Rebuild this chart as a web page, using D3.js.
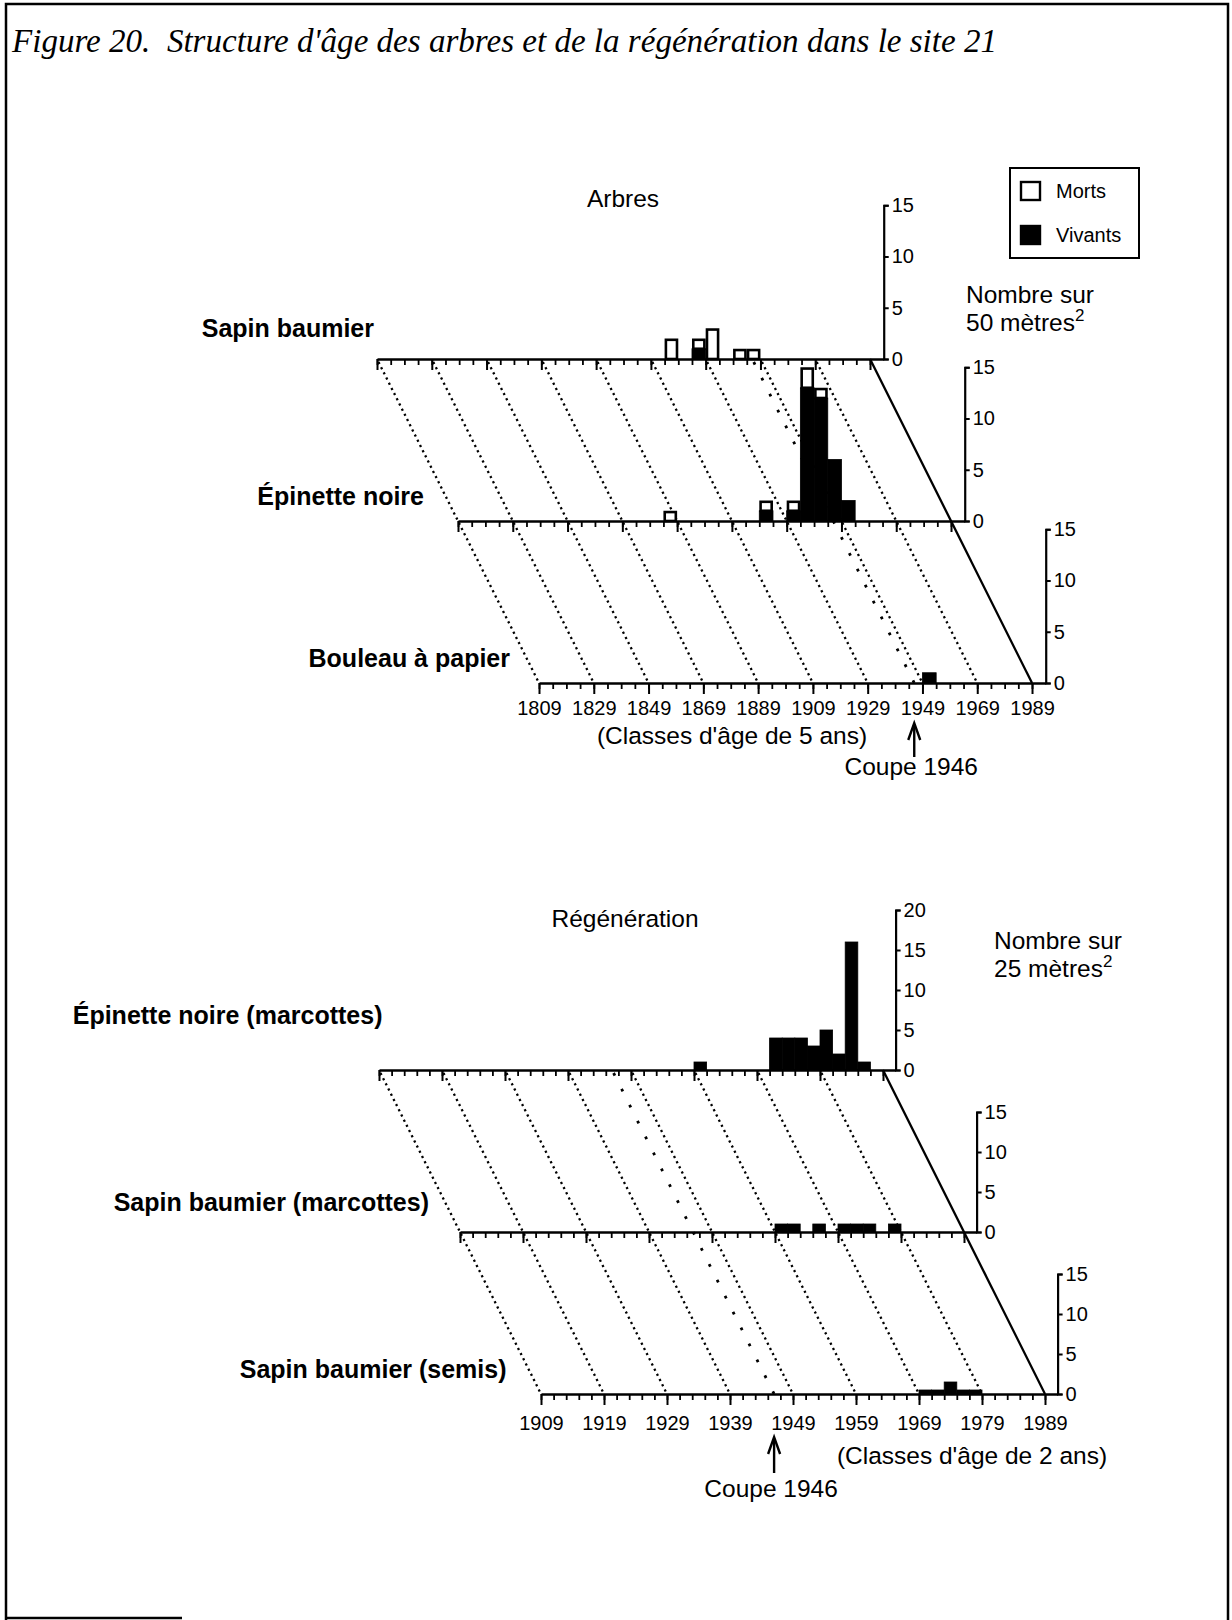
<!DOCTYPE html>
<html>
<head>
<meta charset="utf-8">
<script src="https://cdn.jsdelivr.net/npm/d3@7"></script>
<style>
  body { margin: 0; background: #fff; }
  svg { display: block; }
</style>
</head>
<body>
<svg id="chart" width="1232" height="1620"></svg>
<script>
// ---- Arbres : classes d'âge de 5 ans (année de début de classe)
const treeNames = ["Sapin baumier", "Épinette noire", "Bouleau à papier"];
const treeAxisMax = [15, 15, 15];

const sapinYears    = [1914, 1924, 1929, 1939, 1944];
const sapinMorts    = [2, 1, 3, 1, 1];
const sapinVivants  = [0, 1, 0, 0, 0];

const epinetteYears   = [1884, 1919, 1929, 1934, 1939, 1944, 1949];
const epinetteMorts   = [1, 1, 1, 2, 1, 0, 0];
const epinetteVivants = [0, 1, 1, 13, 12, 6, 2];

const bouleauYears   = [1949];
const bouleauMorts   = [0];
const bouleauVivants = [1];

const treeTickLabels = [1809, 1829, 1849, 1869, 1889, 1909, 1929, 1949, 1969, 1989];

// ---- Régénération : classes d'âge de 2 ans
const regenNames = ["Épinette noire (marcottes)", "Sapin baumier (marcottes)", "Sapin baumier (semis)"];
const regenAxisMax = [20, 15, 15];

const epMarcYears   = [1959, 1971, 1973, 1975, 1977, 1979, 1981, 1983, 1985];
const epMarcValues  = [1, 4, 4, 4, 3, 5, 2, 16, 1];

const sbMarcYears   = [1959, 1961, 1965, 1969, 1971, 1973, 1977];
const sbMarcValues  = [1, 1, 1, 1, 1, 1, 1];

const sbSemisYears  = [1969, 1971, 1973, 1975, 1977];
const sbSemisValues = [0.5, 0.5, 1.5, 0.5, 0.5];

const regenTickLabels = [1909, 1919, 1929, 1939, 1949, 1959, 1969, 1979, 1989];

const cutYear = 1946;

const SANS = '"Liberation Sans", Arial, Helvetica, sans-serif';
const svg = d3.select("#chart");

// ---- Cadre et titre
svg.append("path")
    .attr("d", "M6,1620 V4 H1228 V1620")
    .attr("fill", "none").attr("stroke", "#000").attr("stroke-width", 2.5);
svg.append("line")
    .attr("x1", 6).attr("y1", 1618).attr("x2", 182).attr("y2", 1618)
    .attr("stroke", "#000").attr("stroke-width", 2.5);

svg.append("text")
    .attr("x", 12).attr("y", 52)
    .attr("font-family", '"Liberation Serif", "Times New Roman", serif')
    .attr("font-style", "italic")
    .attr("font-size", 34)
    .attr("textLength", 985)
    .attr("lengthAdjust", "spacingAndGlyphs")
    .style("white-space", "pre")
    .text("Figure 20.  Structure d'âge des arbres et de la régénération dans le site 21");

// ---- Panneaux
const panels = [
  {
    title: "Arbres", titleX: 623, titleY: 207,
    x0: 377, y0: 359, dx: 81, dy: 162,
    start: 1809, end: 1994, pxYear: 2.739, classW: 5, unit: 10.25,
    tickLabels: treeTickLabels, labelPad: 6.8,
    series: [
      { name: treeNames[0], max: treeAxisMax[0], years: sapinYears, morts: sapinMorts, vivants: sapinVivants },
      { name: treeNames[1], max: treeAxisMax[1], years: epinetteYears, morts: epinetteMorts, vivants: epinetteVivants },
      { name: treeNames[2], max: treeAxisMax[2], years: bouleauYears, morts: bouleauMorts, vivants: bouleauVivants }
    ],
    nameShift: [[-3, -22], [-34, -16], [-29, -16]],
    unitText: ["Nombre sur", "50 mètres"], unitX: 966, unitY: 303,
    classText: "(Classes d'âge de 5 ans)", classX: 732, classY: 744, classAnchor: "middle",
    arrowTop: 723, arrowBottom: 757, coupeY: 775
  },
  {
    title: "Régénération", titleX: 625, titleY: 927,
    x0: 379, y0: 1070, dx: 81, dy: 162,
    start: 1909, end: 1991, pxYear: 6.3, classW: 2, unit: 8.0,
    tickLabels: regenTickLabels, labelPad: 10.8,
    series: [
      { name: regenNames[0], max: regenAxisMax[0], years: epMarcYears, vivants: epMarcValues },
      { name: regenNames[1], max: regenAxisMax[1], years: sbMarcYears, vivants: sbMarcValues },
      { name: regenNames[2], max: regenAxisMax[2], years: sbSemisYears, vivants: sbSemisValues }
    ],
    nameShift: [[3.5, -46], [-31, -21], [-34.5, -16]],
    unitText: ["Nombre sur", "25 mètres"], unitX: 994, unitY: 949,
    classText: "(Classes d'âge de 2 ans)", classX: 972, classY: 1464, classAnchor: "middle",
    arrowTop: 1437, arrowBottom: 1473, coupeY: 1497
  }
];

panels.forEach(drawPanel);

function drawPanel(p) {
  const width = (p.end - p.start) * p.pxYear;
  const xs = d3.scaleLinear().domain([p.start, p.end]).range([0, width]);
  const n = p.series.length - 1;
  const slope = p.dx / p.dy;
  const lastYear = p.tickLabels[p.tickLabels.length - 1];
  const g = svg.append("g");

  // ---- Lignes obliques (pointillés, coupe, limite)
  const guideLine = (yr) => {
    const x = p.x0 + xs(yr);
    return g.append("line")
      .attr("x1", x + 3 * slope).attr("y1", p.y0 + 3)
      .attr("x2", x + n * p.dx).attr("y2", p.y0 + n * p.dy)
      .attr("stroke", "#000").attr("fill", "none");
  };
  p.tickLabels.slice(0, -1).forEach(yr => {
    guideLine(yr).attr("stroke-width", 2.3).attr("stroke-dasharray", "2.2,3.6");
  });
  guideLine(cutYear).attr("stroke-width", 2.8).attr("stroke-dasharray", "2.8,15");
  g.append("line")
    .attr("x1", p.x0 + xs(lastYear)).attr("y1", p.y0)
    .attr("x2", p.x0 + xs(lastYear) + n * p.dx).attr("y2", p.y0 + n * p.dy)
    .attr("stroke", "#000").attr("stroke-width", 2.3);

  // ---- Séries
  p.series.forEach((s, i) => {
    const ox = p.x0 + i * p.dx, oy = p.y0 + i * p.dy;
    const ys = d3.scaleLinear().domain([0, s.max]).range([0, -s.max * p.unit]);
    const sg = g.append("g").attr("transform", `translate(${ox},${oy})`);

    const rows = s.years.map((yr, j) => ({
      year: yr,
      v: s.vivants ? s.vivants[j] : 0,
      m: s.morts ? s.morts[j] : 0
    }));
    const bw = xs(p.start + p.classW) - xs(p.start);

    sg.selectAll("rect.viv")
      .data(rows.filter(d => d.v > 0))
      .join("rect")
      .attr("class", "viv")
      .attr("x", d => xs(d.year))
      .attr("y", d => ys(d.v))
      .attr("width", bw)
      .attr("height", d => ys(0) - ys(d.v))
      .attr("fill", "#000").attr("stroke", "#000").attr("stroke-width", 0.8);

    sg.selectAll("rect.mort")
      .data(rows.filter(d => d.m > 0))
      .join("rect")
      .attr("class", "mort")
      .attr("x", d => xs(d.year) + 1.3)
      .attr("y", d => ys(d.v + d.m) + 1.3)
      .attr("width", bw - 2.6)
      .attr("height", d => ys(d.v) - ys(d.v + d.m) - 1.3)
      .attr("fill", "#fff").attr("stroke", "#000").attr("stroke-width", 2.6);

    // axe des x : petites et grandes graduations
    const minor = d3.range(p.start, lastYear + 1, p.classW);
    const ax1 = sg.append("g").call(
      d3.axisBottom(xs).tickValues(minor).tickSize(6).tickSizeOuter(0).tickFormat(""));
    ax1.select(".domain").attr("stroke-width", 2.6);
    ax1.selectAll(".tick line").attr("stroke-width", 1.8);

    const ax2 = sg.append("g").call(
      d3.axisBottom(xs).tickValues(p.tickLabels).tickSize(11).tickSizeOuter(0)
        .tickPadding(p.labelPad)
        .tickFormat(i === n ? d3.format("d") : () => ""));
    ax2.select(".domain").remove();
    ax2.selectAll(".tick line").attr("stroke-width", 2);
    ax2.attr("font-family", SANS).attr("font-size", 20);

    // axe des y
    const ay = sg.append("g")
      .attr("transform", `translate(${width},0)`)
      .call(d3.axisRight(ys).tickValues(d3.range(0, s.max + 1, 5))
        .tickSize(5).tickSizeOuter(5).tickPadding(3));
    ay.attr("font-family", SANS).attr("font-size", 20);
    ay.select(".domain").attr("stroke-width", 2.2);
    ay.selectAll(".tick line").attr("stroke-width", 2);

    // nom de l'espèce
    svg.append("text")
      .attr("x", ox + p.nameShift[i][0]).attr("y", oy + p.nameShift[i][1])
      .attr("text-anchor", "end")
      .attr("font-family", SANS).attr("font-weight", "bold").attr("font-size", 25)
      .text(s.name);
  });

  // ---- Textes du panneau
  svg.append("text")
    .attr("x", p.titleX).attr("y", p.titleY).attr("text-anchor", "middle")
    .attr("font-family", SANS).attr("font-size", 24.5)
    .text(p.title);

  svg.append("text")
    .attr("x", p.unitX).attr("y", p.unitY)
    .attr("font-family", SANS).attr("font-size", 24.5)
    .text(p.unitText[0]);
  const u2 = svg.append("text")
    .attr("x", p.unitX).attr("y", p.unitY + 28)
    .attr("font-family", SANS).attr("font-size", 24.5);
  u2.append("tspan").text(p.unitText[1]);
  u2.append("tspan").attr("font-size", 17).attr("dy", -10).text("2");

  svg.append("text")
    .attr("x", p.classX).attr("y", p.classY).attr("text-anchor", p.classAnchor)
    .attr("font-family", SANS).attr("font-size", 24.5)
    .text(p.classText);

  // flèche de la coupe
  const axc = p.x0 + n * p.dx + xs(cutYear);
  svg.append("line")
    .attr("x1", axc).attr("y1", p.arrowTop + 2)
    .attr("x2", axc).attr("y2", p.arrowBottom)
    .attr("stroke", "#000").attr("stroke-width", 2.4);
  svg.append("path")
    .attr("d", `M${axc - 6},${p.arrowTop + 17} L${axc},${p.arrowTop} L${axc + 6},${p.arrowTop + 17}`)
    .attr("fill", "none").attr("stroke", "#000").attr("stroke-width", 2.4);
  svg.append("text")
    .attr("x", axc - 3).attr("y", p.coupeY).attr("text-anchor", "middle")
    .attr("font-family", SANS).attr("font-size", 24.5)
    .text("Coupe " + cutYear);
}

// ---- Légende
const legend = svg.append("g").attr("font-family", SANS).attr("font-size", 20);
legend.append("rect")
  .attr("x", 1010).attr("y", 168).attr("width", 129).attr("height", 90)
  .attr("fill", "#fff").attr("stroke", "#000").attr("stroke-width", 2);
const legendItems = [
  { label: "Morts", fill: "#fff" },
  { label: "Vivants", fill: "#000" }
];
legendItems.forEach((d, k) => {
  legend.append("rect")
    .attr("x", 1021).attr("y", 182 + k * 44).attr("width", 19).attr("height", 18)
    .attr("fill", d.fill).attr("stroke", "#000").attr("stroke-width", 2.4);
  legend.append("text")
    .attr("x", 1056).attr("y", 198 + k * 44)
    .text(d.label);
});
</script>
</body>
</html>
